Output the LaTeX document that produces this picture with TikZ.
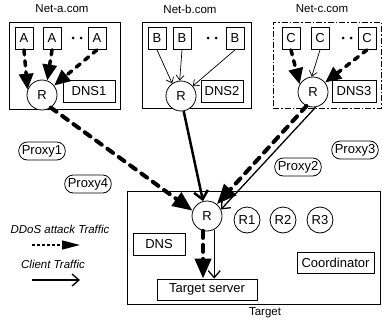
\documentclass[tikz,border=0pt]{standalone}
\usepackage{fontspec}
\setmainfont{Liberation Sans}
\usetikzlibrary{arrows.meta}
\begin{document}
\begin{tikzpicture}[x=1pt,y=-1pt,
  big/.style={font=\fontsize{13}{15}\selectfont},
  ttl/.style={font=\fontsize{11.5}{13}\selectfont},
  netbox/.style={draw, line width=0.8pt, inner sep=0pt},
  hbox/.style={draw, line width=0.8pt, big, minimum width=18pt, minimum height=22pt, inner sep=0pt},
  lbox/.style={draw, line width=0.8pt, big, minimum height=22pt, inner sep=0pt},
  rtr/.style={draw, circle, line width=0.8pt, big, minimum size=30pt, inner sep=0pt, fill=white},
  rsm/.style={draw, circle, line width=0.8pt, big, minimum size=26pt, inner sep=0pt},
  proxy/.style={draw, rounded corners=8.5pt, line width=0.8pt, big, minimum height=18pt, inner xsep=3pt, inner ysep=0pt},
  ddos/.style={line width=3.5pt, dash pattern=on 5pt off 6pt, line cap=round, -{Triangle[length=16pt,width=14pt]}},
  ddosbig/.style={line width=4pt, dash pattern=on 7pt off 7pt, line cap=round, -{Triangle[length=20pt,width=16pt]}},
  thin/.style={line width=0.7pt, -{Straight Barb[length=5pt,width=8pt]}},
  client/.style={line width=1.3pt, -{Straight Barb[length=7pt,width=12pt]}},
  clientbig/.style={line width=2.5pt, -{Straight Barb[length=8pt,width=14pt]}},
  dotc/.style={circle, fill=black, inner sep=0pt, minimum size=3pt}
]
\useasboundingbox (0,0) rectangle (382,324);

% ---- Net-a
\node[ttl] (ta) at (62,9) {Net-a.com};
\node[netbox, minimum width=111pt, minimum height=87pt] (neta) at (64.5,65.5) {};
\node[hbox] (a1) at (24,38.5) {A};
\node[hbox] (a2) at (52,38.5) {A};
\node[hbox] (a3) at (97,38.5) {A};
\node[dotc] (da1) at (73,38) {};
\node[dotc] (da2) at (81,38) {};
\node[rtr] (ra) at (42,95) {R};
\node[lbox, minimum width=52pt] (dns1) at (89,91) {DNS1};

% ---- Net-b
\node[ttl] (tb) at (190,9) {Net-b.com};
\node[netbox, minimum width=109pt, minimum height=86pt] (netb) at (196.5,65) {};
\node[hbox] (b1) at (157,38.5) {B};
\node[hbox] (b2) at (182,38.5) {B};
\node[hbox] (b3) at (235,38.5) {B};
\node[dotc] (db1) at (208,38) {};
\node[dotc] (db2) at (216,38) {};
\node[rtr] (rb) at (181,96) {R};
\node[lbox, minimum width=42pt] (dns2) at (222,91) {DNS2};

% ---- Net-c
\node[ttl] (tc) at (322,9) {Net-c.com};
\node[netbox, minimum width=108pt, minimum height=86pt, dash pattern=on 6pt off 2pt on 1.5pt off 2pt] (netc) at (327,65) {};
\node[hbox] (c1) at (291,38.5) {C};
\node[hbox] (c2) at (320,38.5) {C};
\node[hbox] (c3) at (367,38.5) {C};
\node[dotc] (dc1) at (343,38) {};
\node[dotc] (dc2) at (351,38) {};
\node[rtr] (rc) at (313,92) {R};
\node[lbox, minimum width=44pt] (dns3) at (354,91) {DNS3};

% ---- proxies
\node[proxy] (p1) at (42,151) {Proxy1};
\node[proxy] (p4) at (88,184) {Proxy4};
\node[proxy] (p2) at (298,167) {Proxy2};
\node[proxy] (p3) at (355,150) {Proxy3};

% ---- Target
\node[netbox, minimum width=253pt, minimum height=113pt] (tgt) at (253.5,247.5) {};
\node[ttl] (tl) at (265,313) {Target};
\node[rtr] (rt) at (207,216) {R};
\node[rsm] (r1) at (247,220) {R1};
\node[rsm] (r2) at (283,220) {R2};
\node[rsm] (r3) at (320,220) {R3};
\node[lbox, minimum width=52pt] (dns) at (159,244) {DNS};
\node[lbox, minimum width=100pt, minimum height=21pt] (ts) at (207,289.5) {Target server};
\node[lbox, minimum width=77pt, minimum height=21pt] (co) at (335.5,262.5) {Coordinator};

% ---- legend
\node[ttl, font=\fontsize{11.5}{13}\selectfont\itshape] (lg1) at (60,229) {DDoS attack Traffic};
\coordinate (l1a) at (32,245);
\coordinate (l1b) at (80,245);
\draw[line width=1.4pt, dash pattern=on 3pt off 2pt, -{Triangle[length=18pt,width=9pt]}] (l1a) -- (l1b);
\node[ttl, font=\fontsize{11.5}{13}\selectfont\itshape] (lg2) at (53,264) {Client Traffic};
\coordinate (l2a) at (32,280);
\coordinate (l2b) at (80,280);
\draw[client] (l2a) -- (l2b);

% ---- arrows Net-a
\draw[ddos] (a1.south) -- (ra.160);
\draw[ddos] (a2.south) -- (ra.70);
\draw[ddos] (a3.south) -- (ra.38);
% ---- arrows Net-b
\draw[thin] (b1.south) -- (rb.125);
\draw[thin] (b2.south) -- (rb.95);
\draw[thin] (b3.south) -- (rb.40);
% ---- arrows Net-c
\draw[ddos] (c1.south) -- (rc.150);
\draw[thin] (c2.south) -- (rc.95);
\draw[ddos] (c3.south) -- (rc.38);

% ---- to target
\draw[ddosbig] (ra.-55) -- (rt.160);
\draw[clientbig] (rb.-80) -- (rt.105);
\draw[ddosbig] (rc.-115) -- (rt.50);
\draw[client] (rc.-80) -- (rt.25);
\draw[ddosbig] (rt.-105) -- (rt.-105 |- ts.north);
\draw[client] (rt.-62) -- (rt.-62 |- ts.north);
\end{tikzpicture}
\end{document}
